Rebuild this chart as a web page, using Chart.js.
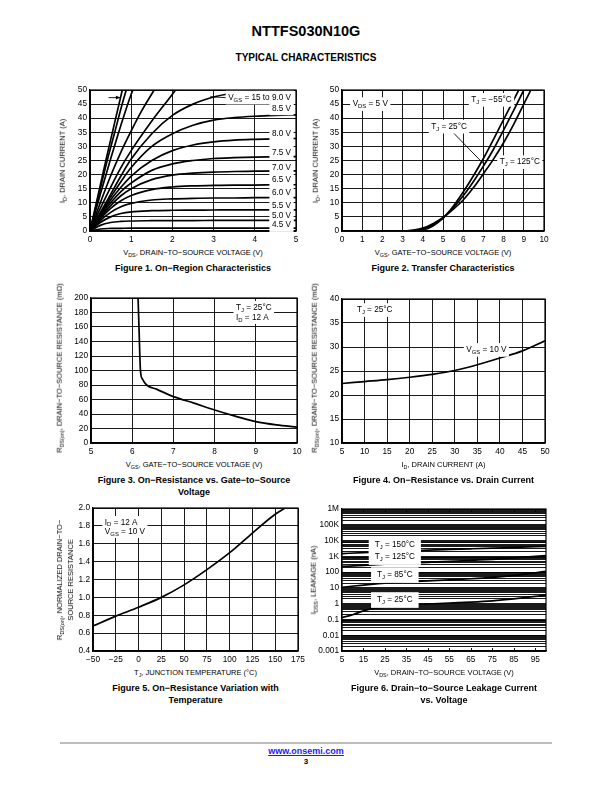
<!DOCTYPE html>
<html>
<head>
<meta charset="utf-8">
<title>NTTFS030N10G – Typical Characteristics</title>
<script src="https://cdn.jsdelivr.net/npm/chart.js@4"></script>
<style>
  html, body { margin: 0; padding: 0; background: #fff; }
  body { position: relative; width: 612px; height: 792px; overflow: hidden;
         font-family: "Liberation Sans", Arial, Helvetica, sans-serif; color: #000; }
  .t { position: absolute; white-space: nowrap; }
  .s { font-size: 72%; position: relative; top: 0.3em; }
  .cap { font-weight: bold; font-size: 9px; line-height: 11.5px; text-align: center; transform: translateX(-50%); }
  .xt { font-size: 7.5px; transform: translateX(-50%); }
  .yt { font-size: 7.5px; transform: translate(-50%, -50%) rotate(-90deg); text-align: center; line-height: 9.5px; }
  .plot { position: absolute; }
</style>
</head>
<body>
<script>
const FONT = '"Liberation Sans", Arial, Helvetica, sans-serif';

// ---- Figure 1: On-Region Characteristics (I_D vs V_DS) ----
const fig1XTicks = [0, 1, 2, 3, 4, 5];
const fig1YTicks = [0, 5, 10, 15, 20, 25, 30, 35, 40, 45, 50];
const fig1Vds = [0, 0.25, 0.5, 0.75, 1, 1.5, 2, 2.5, 3, 3.5, 4, 4.5, 5];
const fig1Id_9v0 = [0, 6.5, 13, 19.5, 25.5, 34.5, 41, 45, 47.5, 49, 50.2, 51, 51.5];
const fig1Id_8v5 = [0, 6, 12, 17.5, 22.5, 30, 34.5, 37.5, 39.3, 40.2, 40.7, 41, 41.2];
const fig1Id_8v0 = [0, 5.6, 11, 15.5, 19.5, 25, 28.5, 30.5, 31.6, 32.2, 32.5, 32.7, 32.8];
const fig1Id_7v5 = [0, 5.2, 10, 14, 17, 21.5, 23.8, 25, 25.7, 26, 26.2, 26.3, 26.4];
const fig1Id_7v0 = [0, 4.8, 9, 12.5, 15, 18.2, 19.8, 20.5, 20.9, 21.1, 21.2, 21.3, 21.3];
const fig1Id_6v5 = [0, 4.3, 8, 10.7, 12.6, 14.7, 15.6, 16, 16.2, 16.3, 16.3, 16.4, 16.4];
const fig1Id_6v0 = [0, 3.7, 6.6, 8.6, 9.8, 11, 11.4, 11.6, 11.7, 11.7, 11.8, 11.8, 11.8];
const fig1Id_5v5 = [0, 3, 5, 6.2, 6.8, 7.2, 7.35, 7.4, 7.45, 7.5, 7.5, 7.5, 7.5];
const fig1Id_5v0 = [0, 2, 3, 3.4, 3.55, 3.65, 3.7, 3.7, 3.75, 3.75, 3.75, 3.75, 3.75];
const fig1Id_4v5 = [0, 0.7, 0.9, 0.95, 1, 1, 1.05, 1.05, 1.05, 1.05, 1.05, 1.05, 1.05];
const fig1Vds_15v = [0, 0.2, 0.4, 0.6, 0.8];
const fig1Id_15v = [0, 13, 26, 38.5, 51];
const fig1Vds_12v = [0, 0.2, 0.4, 0.6, 0.8, 0.9];
const fig1Id_12v = [0, 12, 24, 35, 46, 51];
const fig1Vds_11v = [0, 0.25, 0.5, 0.75, 1, 1.1];
const fig1Id_11v = [0, 13, 25.5, 37.5, 48.5, 52];
const fig1Vds_10v = [0, 0.25, 0.5, 0.75, 1, 1.25, 1.6];
const fig1Id_10v = [0, 10, 19.5, 28, 35.5, 42.5, 51];
const fig1Vds_9v5 = [0, 0.25, 0.5, 0.75, 1, 1.5, 2, 2.1];
const fig1Id_9v5 = [0, 8, 15.5, 22.5, 28.5, 39, 48.5, 50.5];

// ---- Figure 2: Transfer Characteristics (I_D vs V_GS) ----
const fig2XTicks = [0, 1, 2, 3, 4, 5, 6, 7, 8, 9, 10];
const fig2YTicks = [0, 5, 10, 15, 20, 25, 30, 35, 40, 45, 50];
const fig2Vgs_m55 = [0.2, 3.6, 4, 4.5, 5, 5.5, 6, 6.5, 7, 7.5, 8, 8.5, 9];
const fig2Id_m55 = [0, 0, 0.3, 1.8, 4.6, 8.7, 13.8, 19.5, 25.7, 32.5, 39.5, 46.5, 53.5];
const fig2Vgs_25 = [0.2, 3.3, 3.6, 4, 4.5, 5, 5.5, 6, 6.5, 7, 7.5, 8, 8.5, 9, 9.2];
const fig2Id_25 = [0, 0, 0.1, 0.6, 2.2, 4.6, 8.2, 12.5, 17.5, 23, 29, 35.8, 42.8, 50, 53];
const fig2Vgs_125 = [0.2, 3, 3.5, 4, 4.5, 5, 5.5, 6, 6.5, 7, 7.5, 8, 8.5, 9, 9.35, 9.5];
const fig2Id_125 = [0, 0, 0.3, 1, 2.6, 4.8, 7.7, 11, 15.3, 20.3, 25.5, 31.3, 37.8, 45, 50, 52.3];

// ---- Figure 3: R_DS(on) vs V_GS ----
const fig3XTicks = [5, 6, 7, 8, 9, 10];
const fig3YTicks = [0, 20, 40, 60, 80, 100, 120, 140, 160, 180, 200];
const fig3Vgs = [6.14, 6.17, 6.2, 6.25, 6.35, 6.6, 7, 7.5, 8, 8.5, 9, 9.5, 10];
const fig3Rds = [205, 150, 100, 88, 80, 74, 64, 55, 45.5, 37, 29.5, 25, 22];

// ---- Figure 4: R_DS(on) vs I_D ----
const fig4XTicks = [5, 10, 15, 20, 25, 30, 35, 40, 45, 50];
const fig4YTicks = [10, 15, 20, 25, 30, 35, 40];
const fig4Id = [5, 10, 15, 20, 25, 30, 35, 40, 45, 50];
const fig4Rds = [22.4, 22.8, 23.2, 23.7, 24.3, 25.1, 26.3, 27.7, 29.2, 31.3];

// ---- Figure 5: normalized R_DS(on) vs T_J ----
const fig5XTicks = [-50, -25, 0, 25, 50, 75, 100, 125, 150, 175];
const fig5XLabels = ['\u221250', '\u221225', '0', '25', '50', '75', '100', '125', '150', '175'];
const fig5YTicks = [0.4, 0.6, 0.8, 1.0, 1.2, 1.4, 1.6, 1.8, 2.0];
const fig5YLabels = ['0.4', '0.6', '0.8', '1.0', '1.2', '1.4', '1.6', '1.8', '2.0'];
const fig5Tj = [-50, -25, 0, 25, 50, 75, 100, 125, 150, 161];
const fig5Rn = [0.68, 0.79, 0.89, 1.0, 1.14, 1.31, 1.5, 1.72, 1.93, 2.0];

// ---- Figure 6: I_DSS leakage vs V_DS ----
const fig6XTicks = [5, 15, 25, 35, 45, 55, 65, 75, 85, 95];
const fig6YTicks = [0.001, 0.01, 0.1, 1, 10, 100, 1000, 10000, 100000, 1000000];
const fig6YLabels = ['0.001', '0.01', '0.1', '1', '10', '100', '1K', '10K', '100K', '1M'];
const fig6Vds = [5, 15, 25, 35, 45, 55, 65, 75, 85, 100];
const fig6I_150 = [1500, 1700, 1950, 2200, 2500, 2750, 3000, 3300, 3700, 4300];
const fig6I_125 = [230, 270, 320, 370, 420, 480, 560, 650, 800, 1100];
const fig6I_85 = [11, 15, 20, 24, 28, 32, 38, 47, 62, 110];
const fig6Vds_25 = [5, 10, 15, 20, 25, 35, 45, 55, 65, 75, 85, 100];
const fig6I_25 = [0.13, 0.2, 0.35, 0.5, 0.6, 0.8, 0.95, 1.1, 1.25, 1.5, 2.0, 3.5];

// ---------------------------------------------------------------
const PAD = { l: 34, t: 8, r: 12, b: 14 };
const xy = (xs, ys) => xs.map((x, i) => ({ x, y: ys[i] }));

function segs(str) {
  const out = []; const re = /_\{([^}]*)\}/g; let last = 0, m;
  while ((m = re.exec(str))) {
    if (m.index > last) out.push([str.slice(last, m.index), false]);
    out.push([m[1], true]); last = re.lastIndex;
  }
  if (last < str.length) out.push([str.slice(last), false]);
  return out;
}
function richW(ctx, parts, size) {
  let w = 0;
  parts.forEach(([t, sub]) => { ctx.font = (sub ? size * 0.72 : size) + 'px ' + FONT; w += ctx.measureText(t).width; });
  return w;
}
function drawNote(ctx, px, py, n) {
  const size = n.size || 8.2, lh = n.lh || size * 1.3;
  const lines = n.text.map(segs);
  const w = Math.max(...lines.map(p => richW(ctx, p, size)));
  const left = n.align === 'left' ? px : n.align === 'right' ? px - w : px - w / 2;
  const padX = n.padX == null ? 2.5 : n.padX, padY = n.padY == null ? 1.5 : n.padY;
  ctx.fillStyle = '#fff';
  ctx.fillRect(left - padX, py - lh / 2 - padY, w + 2 * padX, lh * lines.length + 2 * padY);
  ctx.fillStyle = '#000'; ctx.textBaseline = 'middle'; ctx.textAlign = 'left';
  lines.forEach((parts, i) => {
    let x = left; const y = py + i * lh;
    parts.forEach(([t, sub]) => {
      ctx.font = (sub ? size * 0.72 : size) + 'px ' + FONT;
      ctx.fillText(t, x, sub ? y + size * 0.3 : y);
      x += ctx.measureText(t).width;
    });
  });
}

const notesPlugin = {
  id: 'notes',
  afterDatasetsDraw(chart, args, o) {
    const { ctx, chartArea: a, scales: { x, y } } = chart;
    ctx.save();
    ctx.strokeStyle = '#000'; ctx.lineWidth = 1.2;
    ctx.strokeRect(a.left, a.top, a.right - a.left, a.bottom - a.top);
    ctx.lineWidth = 0.9;
    (o.innerTicks || []).forEach(v => {
      const px = Math.round(x.getPixelForValue(v)) + 0.5;
      ctx.beginPath();
      ctx.moveTo(px, a.top); ctx.lineTo(px, a.top + 3);
      ctx.moveTo(px, a.bottom); ctx.lineTo(px, a.bottom - 3);
      ctx.stroke();
    });
    (o.leaders || []).forEach(l => {
      const x0 = x.getPixelForValue(l[0]), y0 = y.getPixelForValue(l[1]);
      const x1 = x.getPixelForValue(l[2]), y1 = y.getPixelForValue(l[3]);
      ctx.beginPath(); ctx.moveTo(x0, y0); ctx.lineTo(x1, y1); ctx.stroke();
      if (l[4]) {
        const ang = Math.atan2(y1 - y0, x1 - x0), L = 5, A = 0.4;
        ctx.fillStyle = '#000'; ctx.beginPath(); ctx.moveTo(x1, y1);
        ctx.lineTo(x1 - L * Math.cos(ang - A), y1 - L * Math.sin(ang - A));
        ctx.lineTo(x1 - L * Math.cos(ang + A), y1 - L * Math.sin(ang + A));
        ctx.closePath(); ctx.fill();
      }
    });
    (o.labels || []).forEach(n => drawNote(ctx, x.getPixelForValue(n.x), y.getPixelForValue(n.y), n));
    ctx.restore();
  }
};

function axis(a, isX) {
  const grid = a.grid || a.ticks;
  const labels = a.labels || a.ticks.map(String);
  return {
    type: a.log ? 'logarithmic' : 'linear',
    min: a.min, max: a.max,
    afterBuildTicks: s => { s.ticks = grid.map(v => ({ value: v })); },
    afterFit: s => {
      if (isX) { s.height = PAD.b; s.paddingLeft = 0; s.paddingRight = 0; }
      else { s.width = PAD.l; s.paddingTop = 0; s.paddingBottom = 0; }
    },
    grid: { display: true, drawOnChartArea: a.gridOn !== false, color: '#000', lineWidth: 0.9, drawTicks: false },
    border: { display: true, color: '#000', width: 1.2 },
    ticks: {
      autoSkip: false, maxRotation: 0, minRotation: 0, padding: isX ? 4 : 3, color: '#000',
      font: { family: FONT, size: 8.3 },
      callback: v => { const i = a.ticks.indexOf(v); return i < 0 ? '' : labels[i]; }
    }
  };
}

function addText(html, cls, x, y, css) {
  const d = document.createElement('div');
  d.className = 't ' + cls; d.innerHTML = html;
  d.style.cssText = 'left:' + x + 'px;top:' + y + 'px;' + (css || '');
  document.body.appendChild(d);
}

function plot(rect, o) {
  const W = rect.r - rect.l, H = rect.b - rect.t;
  const box = document.createElement('div');
  box.className = 'plot';
  box.style.left = (rect.l - PAD.l) + 'px'; box.style.top = (rect.t - PAD.t) + 'px';
  const cv = document.createElement('canvas');
  cv.width = W + PAD.l + PAD.r; cv.height = H + PAD.t + PAD.b;
  cv.style.width = cv.width + 'px'; cv.style.height = cv.height + 'px';
  box.appendChild(cv); document.body.appendChild(box);

  const cx = (rect.l + rect.r) / 2;
  addText(o.xTitle, 'xt', cx, rect.b + 17);
  addText(o.caption, 'cap', cx, rect.b + 32);
  addText(o.yTitle, 'yt', rect.l - o.yDx, (rect.t + rect.b) / 2 + (o.yDy || 0));

  return new Chart(cv, {
    type: 'line',
    data: {
      datasets: o.series.map(s => ({
        data: s, borderColor: '#000', borderWidth: 1.7, pointRadius: 0, fill: false,
        cubicInterpolationMode: 'monotone'
      }))
    },
    options: {
      responsive: false, animation: false, events: [],
      layout: { padding: { top: PAD.t, right: PAD.r, left: 0, bottom: 0 } },
      plugins: { legend: { display: false }, tooltip: { enabled: false }, notes: o.notes },
      scales: { x: axis(o.x, true), y: axis(o.y, false) }
    },
    plugins: [notesPlugin]
  });
}

// ---- page header / footer ----
addText('NTTFS030N10G', '', 306, 23, 'font-weight:bold;font-size:14.5px;transform:translateX(-50%)');
addText('TYPICAL CHARACTERISTICS', '', 306, 52, 'font-weight:bold;font-size:10px;transform:translateX(-50%)');
addText('', '', 60, 742, 'width:492px;height:1.5px;background:#bdbdbd');
addText('<span style="color:#1a1aff;text-decoration:underline">www.onsemi.com</span>', '', 306, 746,
  'font-weight:bold;font-size:9px;transform:translateX(-50%)');
addText('3', '', 306, 757, 'font-weight:bold;font-size:8px;transform:translateX(-50%)');

// ---- Figure 1 ----
plot({ l: 90, t: 90, r: 296, b: 231 }, {
  x: { min: 0, max: 5, ticks: fig1XTicks },
  y: { min: 0, max: 50, ticks: fig1YTicks },
  series: [
    xy(fig1Vds_15v, fig1Id_15v), xy(fig1Vds_12v, fig1Id_12v), xy(fig1Vds_11v, fig1Id_11v),
    xy(fig1Vds_10v, fig1Id_10v), xy(fig1Vds_9v5, fig1Id_9v5),
    xy(fig1Vds, fig1Id_9v0), xy(fig1Vds, fig1Id_8v5), xy(fig1Vds, fig1Id_8v0), xy(fig1Vds, fig1Id_7v5),
    xy(fig1Vds, fig1Id_7v0), xy(fig1Vds, fig1Id_6v5), xy(fig1Vds, fig1Id_6v0), xy(fig1Vds, fig1Id_5v5),
    xy(fig1Vds, fig1Id_5v0), xy(fig1Vds, fig1Id_4v5)
  ],
  notes: {
    leaders: [[0.45, 47.3, 0.74, 47.3, true], [2.92, 47.6, 3.3, 47.3]],
    labels: [
      { x: 4.88, y: 47.3, align: 'right', text: ['V_{GS} = 15 to 9.0 V'] },
      { x: 4.88, y: 43.5, align: 'right', text: ['8.5 V'] },
      { x: 4.88, y: 34.6, align: 'right', text: ['8.0 V'] },
      { x: 4.88, y: 27.9, align: 'right', text: ['7.5 V'] },
      { x: 4.88, y: 22.4, align: 'right', text: ['7.0 V'] },
      { x: 4.88, y: 18.0, align: 'right', text: ['6.5 V'] },
      { x: 4.88, y: 13.5, align: 'right', text: ['6.0 V'] },
      { x: 4.88, y: 9.1, align: 'right', text: ['5.5 V'] },
      { x: 4.88, y: 5.3, align: 'right', text: ['5.0 V'] },
      { x: 4.88, y: 2.1, align: 'right', text: ['4.5 V'] }
    ]
  },
  xTitle: 'V<span class="s">DS</span>, DRAIN\u2212TO\u2212SOURCE VOLTAGE (V)',
  yTitle: 'I<span class="s">D</span>, DRAIN CURRENT (A)', yDx: 27,
  caption: 'Figure 1. On\u2212Region Characteristics'
});

// ---- Figure 2 ----
plot({ l: 342, t: 90, r: 544, b: 231 }, {
  x: { min: 0, max: 10, ticks: fig2XTicks },
  y: { min: 0, max: 50, ticks: fig2YTicks },
  series: [xy(fig2Vgs_m55, fig2Id_m55), xy(fig2Vgs_25, fig2Id_25), xy(fig2Vgs_125, fig2Id_125)],
  notes: {
    leaders: [[5.45, 35.3, 7.05, 23.5]],
    labels: [
      { x: 1.4, y: 45, text: ['V_{DS} = 5 V'] },
      { x: 7.4, y: 46.5, text: ['T_{J} = \u221255\u00b0C'] },
      { x: 5.3, y: 37, text: ['T_{J} = 25\u00b0C'] },
      { x: 8.8, y: 24.4, text: ['T_{J} = 125\u00b0C'] }
    ]
  },
  xTitle: 'V<span class="s">GS</span>, GATE\u2212TO\u2212SOURCE VOLTAGE (V)',
  yTitle: 'I<span class="s">D</span>, DRAIN CURRENT (A)', yDx: 26,
  caption: 'Figure 2. Transfer Characteristics'
});

// ---- Figure 3 ----
plot({ l: 91, t: 298, r: 297, b: 443 }, {
  x: { min: 5, max: 10, ticks: fig3XTicks },
  y: { min: 0, max: 200, ticks: fig3YTicks },
  series: [xy(fig3Vgs, fig3Rds)],
  notes: {
    labels: [{ x: 8.52, y: 187, align: 'left', lh: 10, text: ['T_{J} = 25\u00b0C', 'I_{D} = 12 A'] }]
  },
  xTitle: 'V<span class="s">GS</span>, GATE\u2212TO\u2212SOURCE VOLTAGE (V)',
  yTitle: 'R<span class="s">DS(on)</span>, DRAIN\u2212TO\u2212SOURCE RESISTANCE (m\u03a9)', yDx: 31, yDy: -3,
  caption: 'Figure 3. On\u2212Resistance vs. Gate\u2212to\u2212Source<br>Voltage'
});

// ---- Figure 4 ----
plot({ l: 342, t: 299, r: 545, b: 443 }, {
  x: { min: 5, max: 50, ticks: fig4XTicks },
  y: { min: 10, max: 40, ticks: fig4YTicks },
  series: [xy(fig4Id, fig4Rds)],
  notes: {
    labels: [
      { x: 8.3, y: 37.7, align: 'left', text: ['T_{J} = 25\u00b0C'] },
      { x: 37, y: 29.4, text: ['V_{GS} = 10 V'] }
    ]
  },
  xTitle: 'I<span class="s">D</span>, DRAIN CURRENT (A)',
  yTitle: 'R<span class="s">DS(on)</span>, DRAIN\u2212TO\u2212SOURCE RESISTANCE (m\u03a9)', yDx: 27, yDy: -3,
  caption: 'Figure 4. On\u2212Resistance vs. Drain Current'
});

// ---- Figure 5 ----
plot({ l: 93, t: 508, r: 298, b: 651 }, {
  x: { min: -50, max: 175, ticks: fig5XTicks, labels: fig5XLabels },
  y: { min: 0.4, max: 2.0, ticks: fig5YTicks, labels: fig5YLabels },
  series: [xy(fig5Tj, fig5Rn)],
  notes: {
    labels: [{ x: -37, y: 1.84, align: 'left', lh: 9.5, text: ['I_{D} = 12 A', 'V_{GS} = 10 V'] }]
  },
  xTitle: 'T<span class="s">J</span>, JUNCTION TEMPERATURE (\u00b0C)',
  yTitle: 'R<span class="s">DS(on)</span>, NORMALIZED DRAIN\u2212TO\u2212<br>SOURCE RESISTANCE', yDx: 28,
  caption: 'Figure 5. On\u2212Resistance Variation with<br>Temperature'
});

// ---- Figure 6 ----
const fig6Grid = [];
fig6YTicks.forEach((d, i) => {
  fig6Grid.push(d);
  if (i < fig6YTicks.length - 1) for (let m = 2; m <= 9; m++) fig6Grid.push(m * d);
});
plot({ l: 342, t: 509, r: 546, b: 651 }, {
  x: { min: 5, max: 100, ticks: fig6XTicks, gridOn: false },
  y: { log: true, min: 0.001, max: 1000000, ticks: fig6YTicks, labels: fig6YLabels, grid: fig6Grid },
  series: [xy(fig6Vds, fig6I_150), xy(fig6Vds, fig6I_125), xy(fig6Vds, fig6I_85), xy(fig6Vds_25, fig6I_25)],
  notes: {
    innerTicks: fig6XTicks.slice(1),
    labels: [
      { x: 29.6, y: 5200, padX: 6, padY: 2.5, text: ['T_{J} = 150\u00b0C'] },
      { x: 29.6, y: 900, padX: 6, padY: 2.5, text: ['T_{J} = 125\u00b0C'] },
      { x: 29.6, y: 65, padX: 6, padY: 2.5, text: ['T_{J} = 85\u00b0C'] },
      { x: 29.6, y: 1.7, padX: 6, padY: 2.5, text: ['T_{J} = 25\u00b0C'] }
    ]
  },
  xTitle: 'V<span class="s">DS</span>, DRAIN\u2212TO\u2212SOURCE VOLTAGE (V)',
  yTitle: 'I<span class="s">DSS</span>, LEAKAGE (nA)', yDx: 28,
  caption: 'Figure 6. Drain\u2212to\u2212Source Leakage Current<br>vs. Voltage'
});
</script>
</body>
</html>
